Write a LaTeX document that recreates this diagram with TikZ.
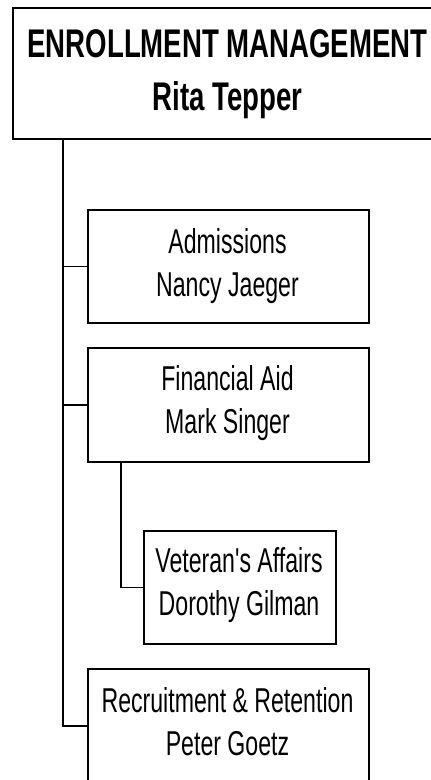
\documentclass[tikz,border=0pt]{standalone}
\usepackage{fontspec}
\newfontfamily\titlefamily[FakeStretch=0.69]{Liberation Sans}
\newfontfamily\bodyfamily[FakeStretch=0.67]{Liberation Sans}
\begin{document}
\begin{tikzpicture}[x=1pt,y=-1pt,
  box/.style={draw=black,line width=1.5pt,fill=white,inner sep=0pt,anchor=north west},
  titletext/.style={inner sep=0pt,anchor=base,font=\titlefamily\bfseries\fontsize{40}{53}\selectfont},
  bodytext/.style={inner sep=0pt,anchor=base,font=\bodyfamily\fontsize{34.5}{43.5}\selectfont},
  link/.style={draw=black,line width=1.5pt}]
\useasboundingbox (0,0) rectangle (431,780);
\clip (0,0) rectangle (431,780);
% boxes
\node[box,minimum width=431pt,minimum height=131pt] (em) at (12,7) {};
\node[box,minimum width=281pt,minimum height=113pt] (adm) at (87,209) {};
\node[box,minimum width=281pt,minimum height=114pt] (fin) at (87,347) {};
\node[box,minimum width=192pt,minimum height=113pt] (vet) at (143,530) {};
\node[box,minimum width=281pt,minimum height=114pt] (rec) at (87,668) {};
% texts
\node[titletext] (emT) at (227.5,57) {\renewcommand\arraystretch{1}\begin{tabular}[t]{@{}c@{}}ENROLLMENT MANAGEMENT\\Rita Tepper\end{tabular}};
\node[bodytext] (admT) at (227.5,253) {\renewcommand\arraystretch{1}\begin{tabular}[t]{@{}c@{}}Admissions\\Nancy Jaeger\end{tabular}};
\node[bodytext] (finT) at (227.5,390) {\renewcommand\arraystretch{1}\begin{tabular}[t]{@{}c@{}}Financial Aid\\Mark Singer\end{tabular}};
\node[bodytext] (vetT) at (239,572) {\renewcommand\arraystretch{1}\begin{tabular}[t]{@{}c@{}}Veteran's Affairs\\Dorothy Gilman\end{tabular}};
\node[bodytext] (recT) at (227.5,712) {\renewcommand\arraystretch{1}\begin{tabular}[t]{@{}c@{}}Recruitment \& Retention\\Peter Goetz\end{tabular}};
% connectors
\coordinate (trunk) at (em.south west -| 63,0);
\coordinate (sub) at (fin.south west -| 121,0);
\draw[link] (trunk) |- (adm.west);
\draw[link] (trunk) |- (fin.west);
\draw[link] (trunk) |- (rec.west);
\draw[link] (sub) |- (vet.west);
\end{tikzpicture}
\end{document}
